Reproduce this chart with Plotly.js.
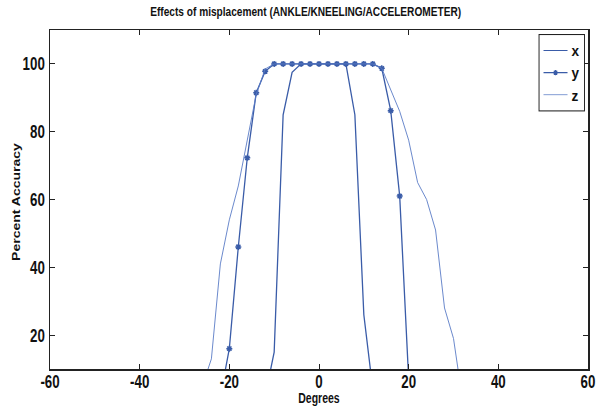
<!DOCTYPE html>
<html>
<head>
<meta charset="utf-8">
<script src="https://cdn.plot.ly/plotly-3.0.1.min.js"></script>
<style>html,body{margin:0;padding:0;background:#fff}#chart{width:597px;height:409px}</style>
</head>
<body>
<div id="chart"></div>
<script>
// Degrees and percent accuracy for each series
var xDeg = [-12, -10, -8, -6, -4, -2, 0, 2, 4, 6, 8, 10, 12];
var xVal = [2, 15, 85, 97.5, 100, 100, 100, 100, 100, 100, 85, 26, 4];

var yDeg = [-22, -20, -18, -16, -14, -12, -10, -8, -6, -4, -2, 0, 2, 4, 6, 8, 10, 12, 14, 16, 18, 20];
var yVal = [2, 16, 46, 72.3, 91.5, 97.8, 100, 100, 100, 100, 100, 100, 100, 100, 100, 100, 100, 100, 98.7, 86.2, 61, 7];

var zDeg = [-26, -24, -22, -20, -18, -16, -14, -12, -10, -8, -6, -4, -2, 0, 2, 4, 6, 8, 10, 12, 14, 16, 18, 20, 22, 24, 26, 28, 30, 32];
var zVal = [5, 13, 41, 54, 64, 77, 91, 98.5, 100, 100, 100, 100, 100, 100, 100, 100, 100, 100, 100, 100, 98.7, 92.5, 86, 77.5, 65, 60, 51, 28, 19, 1];

var seriesNames = ['x', 'y', 'z'];
var xTicks = [-60, -40, -20, 0, 20, 40, 60];
var yTicks = [20, 40, 60, 80, 100];

var fam = 'Liberation Sans, Arial, Helvetica, sans-serif';

var traces = [
  {x: xDeg, y: xVal, name: seriesNames[0], mode: 'lines', type: 'scatter',
   line: {color: '#3a5ca8', width: 1.3}},
  {x: yDeg, y: yVal, name: seriesNames[1], mode: 'lines+markers', type: 'scatter',
   line: {color: '#3a5ca8', width: 1.3},
   marker: {symbol: 'asterisk-open', size: 5, color: '#3a5ca8', line: {color: '#3a5ca8', width: 1.5}}},
  {x: zDeg, y: zVal, name: seriesNames[2], mode: 'lines', type: 'scatter',
   line: {color: '#5a7cc6', width: 0.9}}
];

var axisCommon = {
  showline: true, linecolor: '#222', linewidth: 1.5, mirror: 'ticks',
  ticks: 'inside', ticklen: 5, tickcolor: '#222', tickwidth: 1,
  showgrid: false, zeroline: false, ticklabeloverflow: 'allow',
  tickfont: {family: fam, size: 18.5, color: '#111', weight: 'bold'}
};

var layout = {
  width: 597, height: 409,
  margin: {l: 50, r: 9, t: 30, b: 40},
  paper_bgcolor: '#fff', plot_bgcolor: '#fff',
  title: {text: 'Effects of misplacement (ANKLE/KNEELING/ACCELEROMETER)',
          font: {family: fam, size: 13.5, color: '#111', weight: 'bold'},
          x: 0.512, xanchor: 'center', y: 0.972, yanchor: 'middle'},
  xaxis: Object.assign({}, axisCommon, {
    range: [-60, 60], tickvals: xTicks, ticktext: xTicks.map(String),
    title: {text: 'Degrees', font: {family: fam, size: 14, color: '#111', weight: 'bold'}, standoff: 2}
  }),
  yaxis: Object.assign({}, axisCommon, {
    range: [10, 110], tickvals: yTicks, ticktext: yTicks.map(String),
    title: {text: 'Percent Accuracy', font: {family: fam, size: 14, color: '#111', weight: 'bold'}, standoff: 4}
  }),
  showlegend: true,
  legend: {x: 0.99, xanchor: 'right', y: 0.99, yanchor: 'top',
           bgcolor: '#fff', bordercolor: '#222', borderwidth: 1.2,
           font: {family: fam, size: 17, color: '#111', weight: 'bold'},
           itemwidth: 30, tracegroupgap: 0}
};

// narrow the text horizontally (the reference uses a condensed face)
function squeeze(sel, sx, sy) {
  document.querySelectorAll(sel).forEach(function (t) {
    var x = parseFloat(t.getAttribute('x')) || 0, y = parseFloat(t.getAttribute('y')) || 0;
    var tr = t.getAttribute('transform') || '';
    t.setAttribute('transform', tr + ' translate(' + x + ',' + y + ') scale(' + sx + ',' + sy + ') translate(' + (-x) + ',' + (-y) + ')');
  });
}
function centerAll(sel, cx, cy) {
  document.querySelectorAll(sel).forEach(function (el) {
    var r = el.getBoundingClientRect();
    var dx = cx == null ? 0 : cx - (r.left + r.width / 2);
    var dy = cy == null ? 0 : cy - (r.top + r.height / 2);
    el.setAttribute('transform', 'translate(' + dx + ',' + dy + ') ' + (el.getAttribute('transform') || ''));
  });
}
// compact the legend box, keeping its top-right corner at (right, top)
function compactLegend(sx, sy, right, top) {
  var lg = document.querySelector('g.legend');
  if (!lg) return;
  var bg = lg.querySelector('rect.bg');
  var w = bg ? parseFloat(bg.getAttribute('width')) : 0;
  var tr = lg.getAttribute('transform') || '';
  lg.setAttribute('transform', 'translate(' + (right - w * sx) + ',' + top + ') scale(' + sx + ',' + sy + ')');
}

Plotly.newPlot('chart', traces, layout, {displayModeBar: false, staticPlot: true}).then(function () {
  squeeze('.xtick text, .ytick text', 0.72, 1);
  squeeze('.gtitle', 0.75, 1);
  squeeze('.xtitle', 0.75, 1);
  squeeze('.ytitle', 1, 0.75);
  centerAll('.xtick text', null, 381);
  centerAll('.ytitle', 17, 202);
  centerAll('.xtitle', null, 398.5);
  compactLegend(0.8, 0.88, 584, 34);
});
</script>
</body>
</html>
